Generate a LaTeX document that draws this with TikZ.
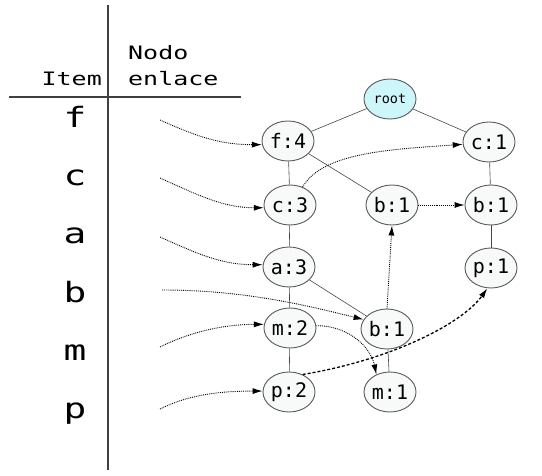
\documentclass[tikz,border=0pt]{standalone}
\usepackage{fontspec}
\setmonofont{DejaVu Sans Mono}
\newfontfamily\widemono[FakeStretch=1.35]{DejaVu Sans Mono}
\usetikzlibrary{shapes.geometric,arrows.meta}
\definecolor{nodefill}{RGB}{248,249,249}
\definecolor{rootfill}{RGB}{204,246,250}
\definecolor{edgecol}{RGB}{70,70,70}
\definecolor{bordercol}{RGB}{90,90,90}
\tikzset{
  fpnode/.style={ellipse, draw=bordercol, line width=0.9pt, fill=nodefill,
    minimum width=52pt, minimum height=40pt, inner sep=0pt,
    font=\ttfamily\fontsize{20}{22}\selectfont},
  rootnode/.style={fpnode, fill=rootfill, font=\ttfamily\fontsize{13.5}{15}\selectfont},
  treeedge/.style={draw=edgecol, line width=0.6pt},
  linkarrow/.style={draw=black, line width=0.9pt, densely dotted,
    -{Latex[length=10pt,width=6pt]}},
  strongarrow/.style={draw=black, line width=1.3pt, dash pattern=on 3pt off 2pt,
    -{Latex[length=10pt,width=6pt]}},
  itemtxt/.style={anchor=base, inner sep=0pt, font=\widemono\fontsize{28}{30}\selectfont},
  headtxt/.style={inner sep=0pt, font=\widemono\fontsize{18.5}{20}\selectfont},
  tableline/.style={draw=black!75, line width=1.2pt}
}
\begin{document}
\begin{tikzpicture}[x=1pt,y=-1pt]
\useasboundingbox (0,0) rectangle (542,476);
% table
\coordinate (vtop) at (108,5);
\coordinate (vbot) at (108,470);
\coordinate (hleft) at (9,97);
\coordinate (hright) at (241,97);
\draw[tableline] (vtop) -- (vbot);
\draw[tableline] (hleft) -- (hright);
\node[headtxt, anchor=base east] (hitem) at (102,86) {Item};
\node[headtxt, anchor=base west] (hnodo) at (128,60) {Nodo};
\node[headtxt, anchor=base west] (henl) at (128,86) {enlace};
% items
\node[itemtxt] (if) at (75,128) {f};
\node[itemtxt] (ic) at (75,186) {c};
\node[itemtxt] (ia) at (75,244) {a};
\node[itemtxt] (ib) at (75,303) {b};
\node[itemtxt] (im) at (75,361) {m};
\node[itemtxt] (ip) at (75,419) {p};
\coordinate (sf) at (160,120);
\coordinate (sc) at (160,178);
\coordinate (sa) at (160,237);
\coordinate (sb) at (162,290);
\coordinate (sm) at (160,347);
\coordinate (sp) at (160,409);
% tree nodes
\node[rootnode] (root) at (390,99) {root};
\node[fpnode] (f4) at (288,141) {f:4};
\node[fpnode] (c3) at (290,205) {c:3};
\node[fpnode] (a3) at (289,267) {a:3};
\node[fpnode] (m2) at (290,328) {m:2};
\node[fpnode] (p2) at (289,392) {p:2};
\node[fpnode] (b1m) at (392,205) {b:1};
\node[fpnode] (b1l) at (387,329) {b:1};
\node[fpnode] (m1) at (390,392) {m:1};
\node[fpnode] (c1) at (489,142) {c:1};
\node[fpnode] (b1r) at (491,205) {b:1};
\node[fpnode] (p1) at (491,268) {p:1};
% tree edges
\draw[treeedge] (root) -- (f4);
\draw[treeedge] (root) -- (c1);
\draw[treeedge] (f4) -- (c3);
\draw[treeedge] (f4) -- (b1m);
\draw[treeedge] (c3) -- (a3);
\draw[treeedge] (a3) -- (m2);
\draw[treeedge] (a3) -- (b1l);
\draw[treeedge] (m2) -- (p2);
\draw[treeedge] (b1l) -- (m1);
\draw[treeedge] (c1) -- (b1r);
\draw[treeedge] (b1r) -- (p1);
% header links
\draw[linkarrow] (sf) .. controls +(40,18) and +(-40,0) .. (f4.188);
\draw[linkarrow] (sc) .. controls +(40,18) and +(-40,0) .. (c3.186);
\draw[linkarrow] (sa) .. controls +(40,18) and +(-40,0) .. (a3.175);
\draw[linkarrow] (sb) .. controls +(80,0) and +(-60,-15) .. (b1l.158);
\draw[linkarrow] (sm) .. controls +(30,-15) and +(-40,0) .. (m2.172);
\draw[linkarrow] (sp) .. controls +(30,-15) and +(-40,0) .. (p2.178);
% node links
\draw[linkarrow] (c3.55) .. controls +(20,-35) and +(-70,5) .. (c1.185);
\draw[linkarrow] (b1m) -- (b1r);
\draw[linkarrow] (b1l.north) -- (b1m.south);
\draw[linkarrow] (m2.5) .. controls +(35,0) and +(-5,-25) .. (m1.128);
\draw[strongarrow] (p2.52) .. controls +(90,-15) and +(-25,35) .. (p1.-100);
\end{tikzpicture}
\end{document}
